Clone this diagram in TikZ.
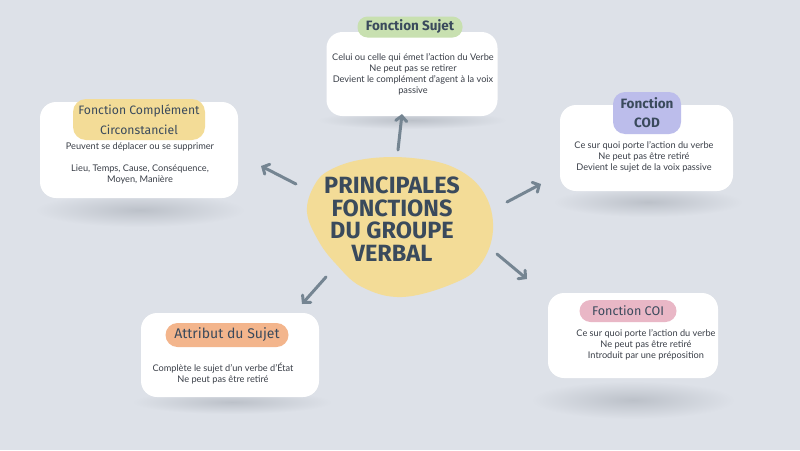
\documentclass[tikz,border=0pt]{standalone}
\usepackage{fontspec}
\setmainfont{Lato}
\newfontfamily\titlefont{Fira Sans}
\newfontfamily\labfont{Fira Sans}
\usetikzlibrary{arrows.meta}
\definecolor{bg}{HTML}{DDE1E8}
\definecolor{shadowc}{HTML}{BCC1C9}
\definecolor{yellowc}{HTML}{F3DC97}
\definecolor{greenc}{HTML}{C8E0B0}
\definecolor{purplec}{HTML}{BCBDEB}
\definecolor{orangec}{HTML}{F3B58C}
\definecolor{pinkc}{HTML}{E9B7C6}
\definecolor{titlec}{HTML}{3A4A5C}
\definecolor{bodyc}{HTML}{3A3F48}
\definecolor{arrowc}{HTML}{758592}
\tikzset{
  card/.style={fill=white, rounded corners=16pt, inner sep=0pt},
  pill/.style={rounded corners=10pt, inner sep=0pt, text=titlec, font=\labfont\fontsize{11}{13}\selectfont},
  body/.style={text=bodyc, align=center, font=\fontsize{9.2}{11}\selectfont, inner sep=0pt},
  arr/.style={draw=arrowc, line width=3pt, line cap=round,
    -{Straight Barb[length=5pt,width=11pt,line cap=round]}},
}
\begin{document}
\begin{tikzpicture}[x=1pt,y=-1pt]
\fill[bg] (0,0) rectangle (800,450);
\useasboundingbox (0,0) rectangle (800,450);

% shadows
\shade[inner color=shadowc, outer color=bg] (412,120) ellipse [x radius=95pt, y radius=9pt];
\shade[inner color=shadowc, outer color=bg] (140,210) ellipse [x radius=105pt, y radius=17pt];
\shade[inner color=shadowc, outer color=bg] (648,202) ellipse [x radius=95pt, y radius=15pt];
\shade[inner color=shadowc, outer color=bg] (232,402) ellipse [x radius=100pt, y radius=12pt];
\shade[inner color=shadowc, outer color=bg] (633,400) ellipse [x radius=102pt, y radius=19pt];

% cards
\node[card, minimum width=171pt, minimum height=84pt] (sujetbox) at (412,74) {};
\node[card, minimum width=198pt, minimum height=96pt] (ccbox) at (139,150) {};
\node[card, minimum width=173pt, minimum height=86pt] (codbox) at (646.5,148) {};
\node[card, minimum width=178pt, minimum height=84pt] (attbox) at (230,355) {};
\node[card, minimum width=170pt, minimum height=85pt] (coibox) at (633,335.5) {};

% labels
\node[pill, fill=greenc, minimum width=105pt, minimum height=21pt, font=\labfont\bfseries\fontsize{13.5}{15}\selectfont] (sujetlab) at (410,27) {Fonction Sujet};
\node[pill, fill=yellowc, minimum width=132pt, minimum height=41pt, rounded corners=13pt, align=center, font=\labfont\fontsize{12.2}{20}\selectfont] (cclab) at (139,119.5) {Fonction Complément\\Circonstanciel};
\node[pill, fill=purplec, minimum width=68pt, minimum height=42pt, rounded corners=12pt, align=center, font=\labfont\bfseries\fontsize{13.5}{19}\selectfont] (codlab) at (647,113) {Fonction\\COD};
\node[pill, fill=orangec, minimum width=123pt, minimum height=24pt, rounded corners=12pt, font=\labfont\fontsize{14}{15}\selectfont] (attlab) at (227,335) {Attribut du Sujet};
\node[pill, fill=pinkc, minimum width=97pt, minimum height=22pt, rounded corners=11pt, font=\labfont\fontsize{12.6}{14}\selectfont] (coilab) at (628,311) {Fonction COI};

% body texts
\node[body] (sujettxt) at (413,74) {Celui ou celle qui émet l'action du Verbe\\Ne peut pas se retirer\\Devient le complément d'agent à la voix\\passive};
\node[body] (cctxt) at (140,163) {Peuvent se déplacer ou se supprimer\\[11pt]Lieu, Temps, Cause, Conséquence,\\Moyen, Manière};
\node[body] (codtxt) at (644,157) {Ce sur quoi porte l'action du verbe\\Ne peut pas être retiré\\Devient le sujet de la voix passive};
\node[body] (atttxt) at (223,373.5) {Complète le sujet d'un verbe d'État\\Ne peut pas être retiré};
\node[body] (coitxt) at (646,344.5) {Ce sur quoi porte l'action du verbe\\Ne peut pas être retiré\\Introduit par une préposition};

% central blob
\fill[yellowc] plot[smooth cycle, tension=0.65] coordinates {
  (330,170) (365,159) (412,158) (455,168) (484,193) (493,230) (480,265)
  (452,284) (402,297) (362,287) (336,264) (318,240) (307,212) (314,186)};
\node[text=titlec, align=center, font=\titlefont\bfseries\fontsize{23.5}{22.6}\selectfont, inner sep=0pt] (title) at (392,219) {PRINCIPALES\\FONCTIONS\\DU GROUPE\\VERBAL};

% arrows
\coordinate (aUs) at (398,150);
\coordinate (aUe) at (402,114);
\coordinate (aLs) at (296,184);
\coordinate (aLe) at (261,166);
\coordinate (aRs) at (507,202);
\coordinate (aRe) at (541,184);
\coordinate (aDRs) at (497,254);
\coordinate (aDRe) at (527,279);
\coordinate (aDLs) at (326,277);
\coordinate (aDLe) at (302,304);
\draw[arr] (aUs) -- (aUe);
\draw[arr] (aLs) -- (aLe);
\draw[arr] (aRs) -- (aRe);
\draw[arr] (aDRs) -- (aDRe);
\draw[arr] (aDLs) -- (aDLe);
\end{tikzpicture}
\end{document}
